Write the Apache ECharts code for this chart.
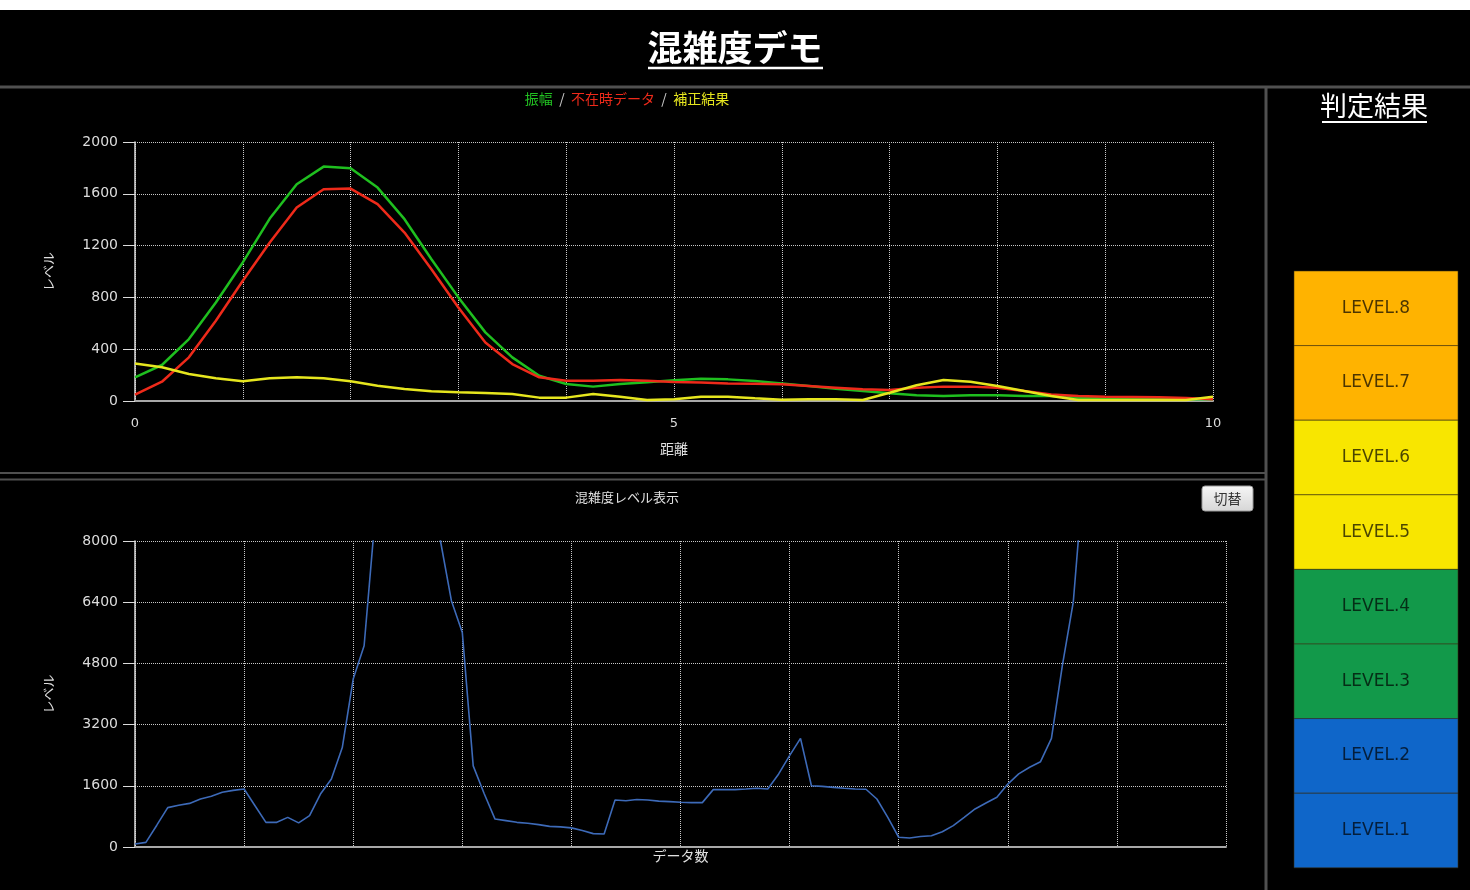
<!DOCTYPE html>
<html>
<head>
<meta charset="utf-8">
<script src="https://cdn.jsdelivr.net/npm/echarts@6/dist/echarts.min.js"></script>
<style>
html,body{margin:0;padding:0;background:#000;}
#c{width:1470px;height:890px;}
</style>
</head>
<body>
<div id="c"></div>
<script>
// ---- data ----
const distance = [0,0.25,0.5,0.75,1,1.25,1.5,1.75,2,2.25,2.5,2.75,3,3.25,3.5,3.75,4,4.25,4.5,4.75,5,
  5.25,5.5,5.75,6,6.25,6.5,6.75,7,7.25,7.5,7.75,8,8.25,8.5,8.75,9,9.25,9.5,9.75,10];
const amplitude = [183,278,478,761,1070,1409,1674,1810,1797,1648,1404,1095,800,530,337,195,131,111,131,144,160,
  172,167,154,136,116,95,77,59,44,39,44,44,39,39,26,20,18,15,13,13];
const absentData = [49,149,337,620,928,1224,1494,1635,1640,1520,1301,1018,722,452,285,183,157,157,162,157,147,
  142,136,134,129,116,103,90,85,103,111,111,103,77,51,39,33,31,28,23,13];
const corrected = [290,260,208,175,152,175,183,175,152,118,93,75,67,62,54,26,26,54,33,8,14,
  33,33,21,10,13,13,8,64,121,162,149,116,77,39,8,8,8,8,8,33];

const congestion = [80,120,570,1030,1090,1140,1255,1325,1430,1480,1515,1080,645,645,775,630,820,1385,1780,2600,
  4390,5260,8600,11000,13000,14000,13000,11000,8000,6440,5610,2120,1400,730,690,645,620,585,540,525,
  500,430,350,340,1230,1210,1240,1230,1200,1185,1170,1160,1160,1500,1500,1500,1515,1535,1515,1910,
  2390,2840,1600,1585,1560,1535,1515,1510,1255,775,255,235,275,295,400,560,775,995,1150,1300,
  1645,1910,2085,2230,2840,4740,6400,9900];

const topYTicks = [0,400,800,1200,1600,2000];
const bottomYTicks = [0,1600,3200,4800,6400,8000];
const topXLabels = [0,5,10];

const levelLabels = ['LEVEL.8','LEVEL.7','LEVEL.6','LEVEL.5','LEVEL.4','LEVEL.3','LEVEL.2','LEVEL.1'];
const levelColors = ['#FFB300','#FFB300','#F8E600','#F8E600','#12994A','#12994A','#0F66C9','#0F66C9'];

// ---- chart ----
const chart = echarts.init(document.getElementById('c'), null, {renderer:'canvas'});
const numFont = 'DejaVu Sans';
const jpFont = '"Noto Sans CJK JP", sans-serif';
const gridLine = {show:true, lineStyle:{type:'dotted', color:'#c8c8c8', width:1}};

function yAxisCfg(ticks, gridIndex){
  return {
    type:'value', gridIndex, min:ticks[0], max:ticks[ticks.length-1], interval:ticks[1]-ticks[0],
    name:'レベル', nameLocation:'middle', nameGap:80,
    nameTextStyle:{color:'#ddd', fontSize:13, fontFamily:jpFont},
    axisLine:{show:true, lineStyle:{color:'#dcdcdc', width:1.5}},
    axisTick:{show:true, length:12, lineStyle:{color:'#dcdcdc', width:1}},
    axisLabel:{color:'#dcdcdc', fontSize:14, fontFamily:numFont, margin:17, formatter: v => String(v)},
    splitLine:gridLine
  };
}

const graphic = [];
graphic.push({type:'rect', shape:{x:0,y:0,width:1470,height:10}, style:{fill:'#fff'}, silent:true});
graphic.push({type:'text', x:735, y:48, style:{text:'混雑度デモ', fill:'#fff', font:'bold 35px "Noto Sans CJK JP"', align:'center', verticalAlign:'middle'}});
graphic.push({type:'line', shape:{x1:648,y1:68,x2:823,y2:68}, style:{stroke:'#fff', lineWidth:2.5}});
graphic.push({type:'line', shape:{x1:0,y1:87,x2:1470,y2:87}, style:{stroke:'#505050', lineWidth:3}});
graphic.push({type:'line', shape:{x1:1266,y1:87,x2:1266,y2:890}, style:{stroke:'#505050', lineWidth:3}});
graphic.push({type:'line', shape:{x1:0,y1:473,x2:1266,y2:473}, style:{stroke:'#505050', lineWidth:2}});
graphic.push({type:'line', shape:{x1:0,y1:479.5,x2:1266,y2:479.5}, style:{stroke:'#505050', lineWidth:2}});
// legend line
graphic.push({type:'text', x:627, y:99, style:{
  text:'{g|振幅} {s|/} {r|不在時データ} {s|/} {y|補正結果}', align:'center', verticalAlign:'middle',
  rich:{
    g:{fill:'#22c022', fontSize:14, fontFamily:jpFont},
    r:{fill:'#ee2a1a', fontSize:14, fontFamily:jpFont},
    y:{fill:'#e6e61e', fontSize:14, fontFamily:jpFont},
    s:{fill:'#cccccc', fontSize:14, fontFamily:jpFont, padding:[0,3,0,3]}
  }}});
graphic.push({type:'text', x:627, y:497, style:{text:'混雑度レベル表示', fill:'#e0e0e0', font:'13px "Noto Sans CJK JP"', align:'center', verticalAlign:'middle'}});
// button
graphic.push({type:'rect', shape:{x:1202,y:486,width:51,height:25,r:3}, style:{
  fill:new echarts.graphic.LinearGradient(0,0,0,1,[{offset:0,color:'#f6f6f6'},{offset:1,color:'#d6d6d6'}]),
  stroke:'#9a9a9a', lineWidth:1}});
graphic.push({type:'text', x:1227.5, y:498.5, style:{text:'切替', fill:'#333', font:'14px "Noto Sans CJK JP"', align:'center', verticalAlign:'middle'}});
// right panel
graphic.push({type:'text', x:1374, y:106, style:{text:'判定結果', fill:'#fff', font:'27px "Noto Sans CJK JP"', align:'center', verticalAlign:'middle'}});
graphic.push({type:'line', shape:{x1:1322,y1:122,x2:1427,y2:122}, style:{stroke:'#fff', lineWidth:2}});
const boxTop = 271, boxH = 74.6;
levelLabels.forEach((lab, i) => {
  graphic.push({type:'rect', shape:{x:1294, y:boxTop + i*boxH, width:164, height:boxH}, style:{fill:levelColors[i], stroke:'rgba(60,50,20,0.55)', lineWidth:1}});
  graphic.push({type:'text', x:1376, y:boxTop + i*boxH + boxH/2, style:{text:lab, fill:'rgba(0,0,0,0.7)', font:'17px "DejaVu Sans"', align:'center', verticalAlign:'middle'}});
});

const option = {
  backgroundColor:'#000',
  animation:false,
  grid:[
    {left:135, top:142, width:1078, height:259},
    {left:135, top:541, width:1091, height:306}
  ],
  xAxis:[
    {type:'value', gridIndex:0, min:0, max:10, interval:1,
     name:'距離', nameLocation:'middle', nameGap:41,
     nameTextStyle:{color:'#e0e0e0', fontSize:14, fontFamily:jpFont},
     axisLine:{show:true, lineStyle:{color:'#a8a8a8', width:2}},
     axisTick:{show:false},
     axisLabel:{color:'#dcdcdc', fontSize:13, fontFamily:numFont, margin:16,
       formatter: v => topXLabels.indexOf(v) >= 0 ? String(v) : ''},
     splitLine:gridLine},
    {type:'value', gridIndex:1, min:0, max:100, interval:10,
     name:'データ数', nameLocation:'middle', nameGap:2,
     nameTextStyle:{color:'#e0e0e0', fontSize:14, fontFamily:jpFont},
     axisLine:{show:true, lineStyle:{color:'#a8a8a8', width:2}},
     axisTick:{show:false},
     axisLabel:{show:false},
     splitLine:gridLine}
  ],
  yAxis:[yAxisCfg(topYTicks,0), yAxisCfg(bottomYTicks,1)],
  series:[
    {name:'振幅', type:'line', xAxisIndex:0, yAxisIndex:0, showSymbol:false, clip:true,
     data:distance.map((d,i)=>[d, amplitude[i]]), lineStyle:{color:'#1fbf1f', width:2.5}, itemStyle:{color:'#1fbf1f'}},
    {name:'不在時データ', type:'line', xAxisIndex:0, yAxisIndex:0, showSymbol:false, clip:true,
     data:distance.map((d,i)=>[d, absentData[i]]), lineStyle:{color:'#ee2a1a', width:2.5}, itemStyle:{color:'#ee2a1a'}},
    {name:'補正結果', type:'line', xAxisIndex:0, yAxisIndex:0, showSymbol:false, clip:true,
     data:distance.map((d,i)=>[d, corrected[i]]), lineStyle:{color:'#e6e61e', width:2.5}, itemStyle:{color:'#e6e61e'}},
    {name:'混雑度', type:'line', xAxisIndex:1, yAxisIndex:1, showSymbol:false, clip:true,
     data:congestion.map((v,i)=>[i, v]), lineStyle:{color:'#3d6ab8', width:1.6}, itemStyle:{color:'#3d6ab8'}}
  ],
  graphic: graphic
};
chart.setOption(option);
</script>
</body>
</html>
